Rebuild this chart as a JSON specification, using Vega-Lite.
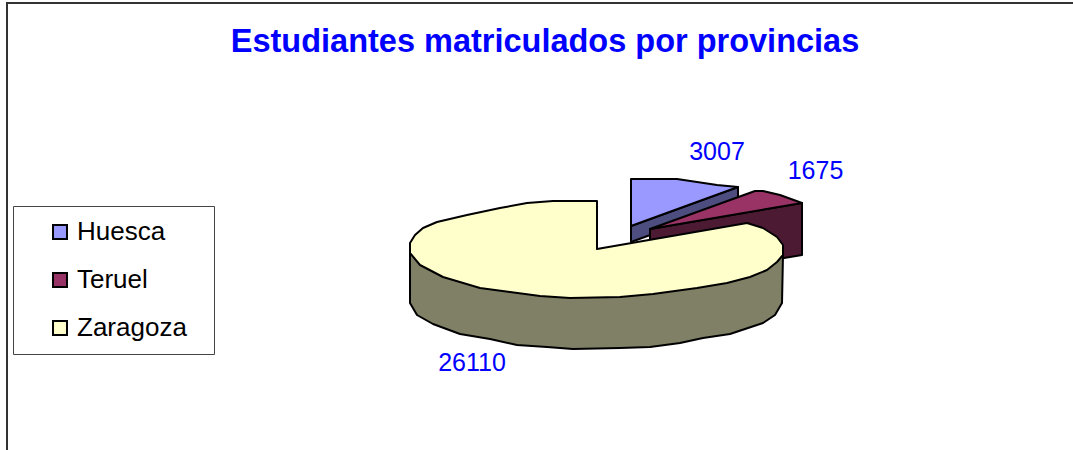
{
 "$schema":"https://vega.github.io/schema/vega-lite/v6.json",
 "width":1090,"height":470,
 "autosize":{"type":"none"},
 "padding":{"left":7,"top":3,"right":0,"bottom":0},
 "background":"white",
 "view":{"stroke":"#333333","strokeWidth":2,"fill":"white"},
 "config":{"font":"Liberation Sans"},
 "title":{"text":"Estudiantes matriculados por provincias","color":"#0000FF","font":"Liberation Sans","fontSize":32.5,"fontWeight":"bold","anchor":"middle","frame":"group","dx":-7,"offset":-55},
 "data":{"values":[
  {"provincia":"Huesca","estudiantes":3007},
  {"provincia":"Teruel","estudiantes":1675},
  {"provincia":"Zaragoza","estudiantes":26110}
 ]},
 "layer":[
  {"mark":{"type":"point","filled":true,"opacity":1,"size":4,"stroke":"#000000","strokeWidth":2,"strokeJoin":"round"},
   "encoding":{
    "color":{"field":"provincia","type":"nominal","legend":null,"scale":{"domain":["Huesca","Teruel","Zaragoza"],"range":["#4D4D80","#4D1A33","#808066"]}},
    "shape":{"field":"provincia","type":"nominal","legend":null,"scale":{"domain":["Huesca","Teruel","Zaragoza"],"range":[
     "M79,-12L186,-51L186,-35L79,4Z",
     "M98,-9L250,-35L250,17L232,20L98,42Z",
     "M-142,15L-142,65L-135,77L-119,86L-92,96L-62,101L-35,107L-5,109L21,111L68,110L98,109L128,105L151,100L178,96L211,85L223,77L230,65L231,17Z"
    ]}}
   }},
  {"mark":{"type":"point","filled":true,"opacity":1,"size":4,"stroke":"#000000","strokeWidth":2,"strokeJoin":"round"},
   "encoding":{
    "color":{"field":"provincia","type":"nominal","legend":null,"scale":{"domain":["Huesca","Teruel","Zaragoza"],"range":["#9999FF","#993366","#FFFFCC"]}},
    "shape":{"field":"provincia","type":"nominal","legend":null,"scale":{"domain":["Huesca","Teruel","Zaragoza"],"range":[
     "M79,-59L125,-59L145,-56L165,-53L186,-51L79,-12Z",
     "M98,-9L203,-47L211,-47L228,-43L250,-35Z",
     "M45,11L45,-37L1,-37L-25,-35L-52,-30L-85,-23L-115,-16L-129,-10L-137,-3L-142,5L-142,15L-132,27L-109,39L-72,50L-42,54L-12,58L18,60L68,59L101,56L145,50L175,45L198,39L215,32L225,24L231,17L231,7L225,-1L211,-10L195,-15Z"
    ]}}
   }},
  {"mark":{"type":"point","filled":true,"opacity":1,"size":0,"strokeWidth":0},
   "encoding":{
    "color":{"field":"provincia","type":"nominal","scale":{"domain":["Huesca","Teruel","Zaragoza"],"range":["#9999FF","#993366","#FFFFCC"]},
     "legend":{"title":"\u00a0","titleOrient":"right","titleFontSize":4,"titlePadding":14,"orient":"none","legendX":6,"legendY":203,"fillColor":"white","strokeColor":"#444444","padding":13,"symbolOffset":21,"symbolType":"square","symbolSize":195,"symbolStrokeColor":"#000000","symbolStrokeWidth":2,"labelFont":"Liberation Sans","labelFontSize":26,"labelColor":"#000000","labelOffset":4,"rowPadding":22,"labelLimit":300,
      "encode":{"symbols":{"update":{"stroke":{"value":"#000000"},"strokeWidth":{"value":2}}},"labels":{"update":{"dy":{"value":-3}}}}}}
   }},
  {"transform":[{"filter":"datum.provincia==='Huesca'"}],
   "mark":{"type":"text","font":"Liberation Sans","fontSize":25,"color":"#0000FF","dx":165,"dy":-86,"baseline":"middle"},
   "encoding":{"text":{"field":"estudiantes","type":"quantitative","format":"d"}}},
  {"transform":[{"filter":"datum.provincia==='Teruel'"}],
   "mark":{"type":"text","font":"Liberation Sans","fontSize":25,"color":"#0000FF","dx":263.5,"dy":-67,"baseline":"middle"},
   "encoding":{"text":{"field":"estudiantes","type":"quantitative","format":"d"}}},
  {"transform":[{"filter":"datum.provincia==='Zaragoza'"}],
   "mark":{"type":"text","font":"Liberation Sans","fontSize":25,"color":"#0000FF","dx":-80,"dy":125,"baseline":"middle"},
   "encoding":{"text":{"field":"estudiantes","type":"quantitative","format":"d"}}}
 ],
 "resolve":{"scale":{"color":"independent","shape":"independent"}}
}
